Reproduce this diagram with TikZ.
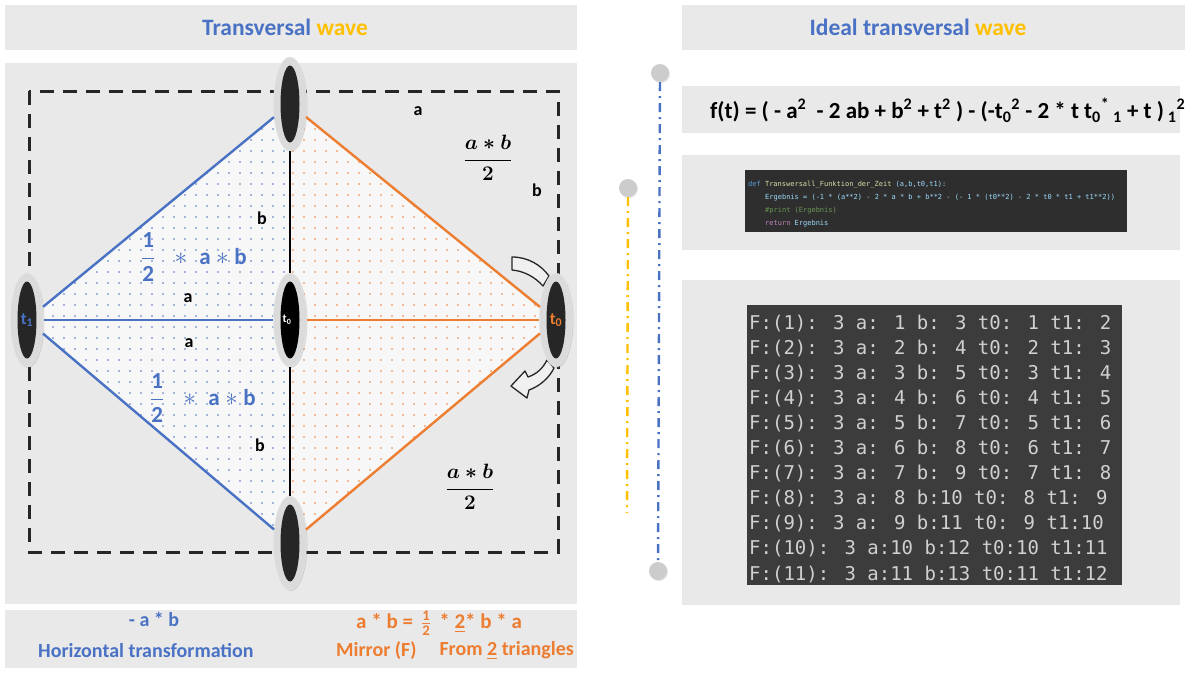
\documentclass[tikz,border=0pt]{standalone}
\usepackage{amsmath}
\usepackage{fontspec}
\setmainfont{Carlito}
\newfontfamily\codefont{DejaVu Sans Mono}
\usetikzlibrary{shapes.geometric,patterns.meta,shadows}
\definecolor{myblue}{HTML}{4A72C4}
\definecolor{myorange}{HTML}{ED7D31}
\definecolor{mygold}{HTML}{FFC000}
\definecolor{panelgray}{HTML}{E9E9E9}
\definecolor{consolebg}{HTML}{3C3C3C}
\definecolor{consolefg}{HTML}{D0D0D0}
\definecolor{codebg}{HTML}{2E2E2E}
\definecolor{kwblue}{HTML}{569CD6}
\definecolor{fnyellow}{HTML}{DCDCAA}
\definecolor{varblue}{HTML}{9CDCFE}
\definecolor{cmtgreen}{HTML}{6A9955}
\definecolor{kwpurple}{HTML}{C586C0}
\tikzset{
  panel/.style={fill=panelgray, draw=none},
  outerell/.style={ellipse, minimum width=33pt, minimum height=94pt, inner sep=0pt, fill=black!14, draw=black!10, drop shadow={shadow xshift=1pt, shadow yshift=-1pt, opacity=0.25}},
  innerell/.style={ellipse, minimum width=19pt, minimum height=77pt, inner sep=0pt, fill=black!85},
  lbl/.style={font=\bfseries\fontsize{18}{20}\selectfont, inner sep=0pt},
  blueline/.style={draw=myblue, line width=2.4pt},
  orangeline/.style={draw=myorange, line width=2.4pt},
  knob/.style={circle, minimum size=18pt, inner sep=0pt, fill=black!20, drop shadow={shadow xshift=1pt, shadow yshift=-1pt, opacity=0.2}},
  consoleline/.style={anchor=base west, inner sep=0pt, text=consolefg, font=\codefont\fontsize{19}{22}\selectfont},
  codeline/.style={anchor=base west, inner sep=0pt, font=\codefont\fontsize{7}{8}\selectfont},
  curvarrow/.style={fill=black!6, draw=black!85, line width=1.3pt, line join=round},
  titletext/.style={font=\bfseries\fontsize{23.5}{26}\selectfont},
  bottomtext/.style={inner sep=0pt, font=\bfseries\fontsize{20}{22}\selectfont},
}
\begin{document}
\begin{tikzpicture}[x=1pt,y=-1pt]
\useasboundingbox (0,0) rectangle (1193,672);
\fill[white] (0,0) rectangle (1193,672);
% ---------- left panels
\fill[panel] (5,5) rectangle (577,50);
\node[titletext] (title1) at (285,27) {\textcolor{myblue}{Transversal} \textcolor{mygold}{wave}};
\fill[panel] (5,63) rectangle (577,604);
\fill[panel] (5,610) rectangle (577,668);
% centers
\coordinate (cL) at (27,320);
\coordinate (cT) at (290,104);
\coordinate (cC) at (290,320);
\coordinate (cR) at (556,320);
\coordinate (cB) at (290,543);
% dotted fills
\fill[black!3] (cL) -- (cT) -- (cR) -- (cB) -- cycle;
\fill[pattern={Dots[distance=10.5pt, radius=0.9pt]}, pattern color=myblue] (cL) -- (cT) -- (cB) -- cycle;
\fill[pattern={Dots[distance=10.5pt, radius=0.9pt]}, pattern color=myorange] (cT) -- (cR) -- (cB) -- cycle;
% dashed rectangle
\draw[line width=3pt, dash pattern=on 14pt off 9pt, black!85] (29,91) rectangle (558,552);
% curved arrows
\path[curvarrow] (512,257) .. controls (528,257) and (541,265) .. (549,276) -- (543,286) .. controls (535,277) and (524,271) .. (512,270) -- cycle;
\path[curvarrow] (547,360) .. controls (543,368) and (537,374) .. (528,377) -- (525,371) -- (511,386) -- (527,398) -- (529,390) .. controls (540,386) and (549,378) .. (554,368) -- cycle;
% nodes
\node[outerell] (L) at (cL) {};
\node[innerell] (Li) at (cL) {\textcolor{myblue}{\bfseries\fontsize{17}{18}\selectfont t\textsubscript{1}}};
\node[outerell] (T) at (cT) {};
\node[innerell] (Ti) at (cT) {};
\node[outerell] (C) at (cC) {};
\node[innerell, fill=black] (Ci) at (cC) {\hspace*{-6pt}\textcolor{white}{\bfseries\fontsize{12}{14}\selectfont t\textsubscript{0}}};
\node[outerell] (R) at (cR) {};
\node[innerell] (Ri) at (cR) {\textcolor{myorange}{\bfseries\fontsize{17}{18}\selectfont t\textsubscript{0}}};
\node[outerell] (B) at (cB) {};
\node[innerell] (Bi) at (cB) {};
% connectors
\draw[blueline] (L) -- (T);
\draw[blueline] (L) -- (B);
\draw[blueline] (L) -- (C);
\draw[orangeline] (T) -- (R);
\draw[orangeline] (B) -- (R);
\draw[orangeline] (C) -- (R);
\draw[black, line width=1.2pt] (T) -- (C);
\draw[black, line width=1.2pt] (C) -- (B);
% labels
\node[lbl] (la1) at (418,111) {a};
\node[lbl] (lb1) at (537,190) {b};
\node[lbl] (lb2) at (262,218) {b};
\node[lbl] (la2) at (188,298) {a};
\node[lbl] (la3) at (189,343) {a};
\node[lbl] (lb3) at (260,445) {b};
\node[inner sep=0pt, font=\fontsize{22}{26}\selectfont] (f1) at (488,158) {$\boldsymbol{\dfrac{a*b}{2}}$};
\node[inner sep=0pt, font=\fontsize{22}{26}\selectfont] (f2) at (470,487) {$\boldsymbol{\dfrac{a*b}{2}}$};
\node[inner sep=0pt, anchor=west, text=myblue, font=\fontsize{23}{26}\selectfont] (f3) at (141,257) {$\mathbf{\dfrac{1}{2}\;\;*\;a*b}$};
\node[inner sep=0pt, anchor=west, text=myblue, font=\fontsize{23}{26}\selectfont] (f4) at (150,398) {$\mathbf{\dfrac{1}{2}\;\;*\;a*b}$};
% bottom texts
\node[bottomtext, text=myblue] (b1) at (154,619) {- a * b};
\node[bottomtext, anchor=west, text=myblue] (b2) at (38,651) {Horizontal transformation};
\node[bottomtext, anchor=west, text=myorange, font=\bfseries\fontsize{21}{22}\selectfont] (b3) at (356,623) {a * b =\, $\frac{\mathbf{1}}{\mathbf{2}}$\, * \underline{2}* b * a};
\node[bottomtext, anchor=west, text=myorange] (b4) at (336,651) {Mirror (F)};
\node[bottomtext, anchor=east, text=myorange] (b5) at (574,651) {From \underline{2} triangles};
% ---------- right side
\fill[panel] (682,5) rectangle (1185,50);
\node[titletext] (title2) at (918,27) {\textcolor{myblue}{Ideal transversal} \textcolor{mygold}{wave}};
\fill[panel] (682,86) rectangle (1180,133);
\node[anchor=west, inner sep=0pt, font=\bfseries\fontsize{23}{25}\selectfont] (formula) at (710,110) {f(t) = ( - a\textsuperscript{2}~ - 2 ab + b\textsuperscript{2} + t\textsuperscript{2} ) - (-t\textsubscript{0}\textsuperscript{2} - 2 * t t\textsubscript{0}\textsuperscript{*}\,\textsubscript{1} + t )\,\textsubscript{1}\textsuperscript{2}};
\fill[panel] (682,155) rectangle (1180,250);
\fill[codebg] (745,170) rectangle (1127,232);
\node[codeline] (c1) at (748,186) {\textcolor{kwblue}{def} \textcolor{fnyellow}{Transwersall\_Funktion\_der\_Zeit} \textcolor{varblue}{(a,b,t0,t1):}};
\node[codeline, text=varblue] (c2) at (765,199) {Ergebnis = (-1 * (a**2) - 2 * a * b + b**2 - (- 1 * (t0**2) - 2 * t0 * t1 + t1**2))};
\node[codeline, text=cmtgreen] (c3) at (765,212) {\#print (Ergebnis)};
\node[codeline] (c4) at (765,225) {\textcolor{kwpurple}{return} \textcolor{varblue}{Ergebnis}};
\fill[panel] (682,280) rectangle (1180,605);
\fill[consolebg] (747,305) rectangle (1122,585);
\foreach \i/\t in {0/{F:(1): 3 a: 1 b: 3 t0: 1 t1: 2},1/{F:(2): 3 a: 2 b: 4 t0: 2 t1: 3},2/{F:(3): 3 a: 3 b: 5 t0: 3 t1: 4},3/{F:(4): 3 a: 4 b: 6 t0: 4 t1: 5},4/{F:(5): 3 a: 5 b: 7 t0: 5 t1: 6},5/{F:(6): 3 a: 6 b: 8 t0: 6 t1: 7},6/{F:(7): 3 a: 7 b: 9 t0: 7 t1: 8},7/{F:(8): 3 a: 8 b:10 t0: 8 t1: 9},8/{F:(9): 3 a: 9 b:11 t0: 9 t1:10},9/{F:(10): 3 a:10 b:12 t0:10 t1:11},10/{F:(11): 3 a:11 b:13 t0:11 t1:12}}
  \node[consoleline] (con\i) at (749,{329+25.1*\i}) {\t};
% timeline
\node[knob] (k1) at (660,73) {};
\node[knob] (k2) at (658,571) {};
\node[knob] (k3) at (628,188) {};
\coordinate (yend) at (627,513);
\draw[myblue, line width=2.4pt, dash pattern=on 9pt off 5pt on 2pt off 5pt] (k1) -- (k2);
\draw[mygold, line width=2.4pt, dash pattern=on 9pt off 5pt on 2pt off 5pt] (k3) -- (yend);
\end{tikzpicture}
\end{document}
